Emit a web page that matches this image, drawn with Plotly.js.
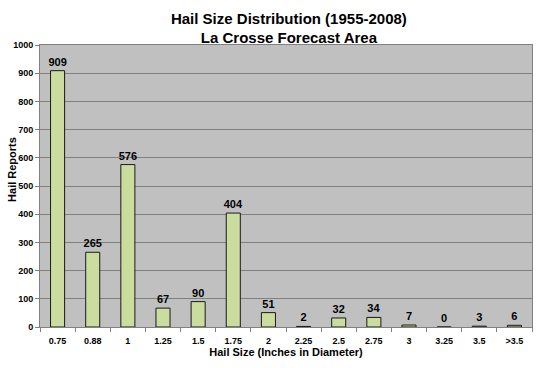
<!DOCTYPE html>
<html><head><meta charset="utf-8">
<script src="https://cdn.plot.ly/plotly-3.0.1.min.js"></script>
<style>html,body{margin:0;padding:0;background:#fff}#chart{width:540px;height:368px}</style>
</head><body><div id="chart"></div>
<script>
const categories = ["0.75","0.88","1","1.25","1.5","1.75","2","2.25","2.5","2.75","3","3.25","3.5",">3.5"];
const reports = [909,265,576,67,90,404,51,2,32,34,7,0,3,6];
const yTicks = [0,100,200,300,400,500,600,700,800,900,1000];

const font = "Liberation Sans, Arial, sans-serif";
Plotly.newPlot("chart", [{
  type: "bar",
  x: categories,
  y: reports,
  text: reports.map(String),
  textposition: "outside",
  constraintext: "none",
  cliponaxis: false,
  textfont: {family: font, size: 11, color: "#000", weight: "bold"},
  marker: {color: "#cbdc9f", line: {color: "#1a1a1a", width: 1}},
  width: 0.4,
  hoverinfo: "x+y"
}], {
  width: 540, height: 368,
  margin: {l: 40, r: 8, t: 45, b: 41},
  paper_bgcolor: "#ffffff",
  plot_bgcolor: "#c0c0c0",
  showlegend: false,
  title: {text: "<b>Hail Size Distribution (1955-2008)<br>La Crosse Forecast Area</b>",
          font: {family: font, size: 15, color: "#000"}, x: 0.535, xanchor: "center",
          yref: "container", y: 0.935, yanchor: "middle"},
  xaxis: {
    type: "category", tickson: "boundaries", ticks: "outside", ticklen: 4, tickcolor: "#808080",
    ticklabelstandoff: 5,
    showline: true, linecolor: "#808080", mirror: true, showgrid: false,
    tickfont: {family: font, size: 9, color: "#000", weight: "bold"},
    title: {text: "<b>Hail Size (Inches in Diameter)</b>", font: {family: font, size: 11, color: "#000"}, standoff: 3}
  },
  yaxis: {
    range: [0, 1000], tickvals: yTicks, ticks: "outside", ticklen: 4, tickcolor: "#808080",
    showline: true, linecolor: "#808080", mirror: true,
    showgrid: true, gridcolor: "#808080", gridwidth: 1, zeroline: false,
    tickfont: {family: font, size: 9, color: "#000", weight: "bold"}
  },
  annotations: [{
    text: "<b>Hail Reports</b>", xref: "paper", yref: "paper", x: 0, y: 0.557,
    xshift: -28, textangle: -90, showarrow: false, xanchor: "center", yanchor: "middle",
    font: {family: font, size: 11, color: "#000"}
  }],
  bargap: 0.6
}, {displayModeBar: false, staticPlot: true});
</script></body></html>
